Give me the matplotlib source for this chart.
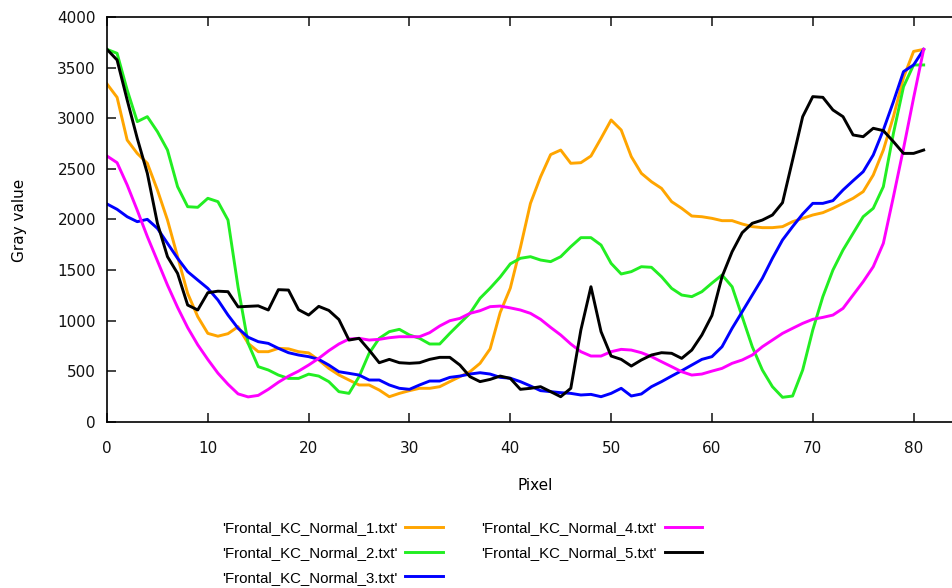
import numpy as np
import matplotlib
matplotlib.use('Agg')
import matplotlib.pyplot as plt

# gray value profiles along one row, 82 pixels each
pixel = np.arange(82)

normal_1 = [3338, 3206, 2784, 2652, 2554, 2290, 1993, 1631, 1268, 1038,
            873, 845, 870, 939, 774, 692, 692, 725, 720, 692,
            680, 610, 527, 462, 412, 363, 363, 313, 247, 280,
            307, 330, 330, 346, 396, 445, 494, 577, 720, 1080,
            1320, 1720, 2158, 2420, 2640, 2685, 2554, 2560, 2626, 2801,
            2982, 2883, 2620, 2455, 2372, 2306, 2175, 2109, 2033, 2026,
            2010, 1987, 1987, 1954, 1928, 1918, 1918, 1928, 1977, 2010,
            2043, 2066, 2109, 2158, 2208, 2274, 2438, 2685, 3015, 3400,
            3660, 3680]

normal_2 = [3680, 3641, 3279, 2966, 3015, 2867, 2685, 2323, 2125, 2119,
            2208, 2175, 1993, 1330, 774, 544, 511, 461, 428, 428,
            470, 451, 396, 297, 280, 445, 676, 824, 890, 913,
            857, 824, 768, 768, 873, 972, 1071, 1220, 1320, 1430,
            1560, 1615, 1631, 1598, 1582, 1631, 1730, 1819, 1819, 1746,
            1565, 1460, 1483, 1532, 1526, 1433, 1318, 1252, 1236, 1285,
            1370, 1450, 1334, 1038, 741, 511, 346, 241, 254, 511,
            906, 1236, 1499, 1697, 1862, 2026, 2109, 2323, 2850, 3311,
            3526, 3526]

normal_3 = [2152, 2099, 2026, 1977, 2000, 1911, 1763, 1615, 1483, 1400,
            1318, 1203, 1054, 923, 835, 791, 774, 725, 682, 659,
            643, 616, 560, 494, 478, 461, 412, 412, 363, 330,
            320, 363, 402, 402, 438, 451, 471, 484, 471, 438,
            430, 396, 353, 307, 297, 287, 280, 264, 270, 247,
            280, 330, 254, 274, 346, 396, 451, 504, 560, 616,
            643, 741, 923, 1087, 1252, 1417, 1615, 1796, 1928, 2053,
            2158, 2158, 2185, 2290, 2382, 2471, 2636, 2883, 3163, 3460,
            3526, 3680]

normal_4 = [2626, 2560, 2340, 2090, 1830, 1590, 1350, 1130, 930, 760,
            615, 480, 370, 275, 245, 260, 320, 390, 450, 500,
            560, 626, 702, 768, 817, 824, 807, 814, 830, 840,
            840, 840, 880, 946, 998, 1021, 1071, 1097, 1137, 1143,
            1125, 1104, 1071, 1012, 932, 857, 768, 692, 649, 649,
            692, 715, 708, 682, 643, 593, 544, 494, 461, 471,
            500, 527, 577, 610, 659, 741, 807, 873, 923, 972,
            1012, 1031, 1054, 1120, 1252, 1384, 1532, 1763, 2224, 2700,
            3200, 3680]

normal_5 = [3680, 3575, 3180, 2801, 2455, 1961, 1631, 1466, 1153, 1104,
            1275, 1290, 1285, 1135, 1140, 1145, 1104, 1305, 1301, 1107,
            1054, 1140, 1100, 1010, 807, 824, 708, 583, 616, 583,
            577, 583, 616, 636, 636, 560, 445, 396, 418, 451,
            428, 320, 330, 346, 297, 247, 330, 906, 1334, 890,
            649, 616, 550, 610, 659, 682, 676, 626, 708, 857,
            1050, 1433, 1680, 1868, 1961, 1993, 2043, 2165, 2587, 3015,
            3213, 3206, 3081, 3015, 2834, 2817, 2900, 2877, 2768, 2652,
            2652, 2685]

profiles = [normal_1, normal_2, normal_3, normal_4, normal_5]
labels = ["'Frontal_KC_Normal_%d.txt'" % k for k in range(1, 6)]
colors = ['#ffa500', '#22ee22', '#0000ff', '#ff00ff', '#000000']

xticks = np.arange(0, 81, 10)
yticks = np.arange(0, 4001, 500)

plt.rcParams['font.family'] = 'DejaVu Sans'

fig = plt.figure(figsize=(9.52, 5.88), dpi=100)
ax = fig.add_axes([107/952, 1 - 421.7/588, 857/952, 404.7/588])

for y, lab, c in zip(profiles, labels, colors):
    ax.plot(pixel, y, color=c, lw=2.1, label=lab)

ax.set_xlim(0, 85)
ax.set_ylim(0, 4000)
ax.set_xticks(xticks)
ax.set_yticks(yticks)
ax.tick_params(direction='in', length=6.5, width=1.1, top=True, right=True,
               labelsize=11, colors='#111111')
ax.tick_params(axis='x', pad=14)
ax.tick_params(axis='y', pad=8)
for s in ax.spines.values():
    s.set_linewidth(1.2)

ax.set_xlabel('Pixel', fontsize=11, labelpad=16)
fig.text(20/952, 1 - 220/588, 'Gray value', rotation=90, ha='center', va='center', fontsize=11)

# key sits below the plot, text first then the line sample
ax.legend(loc='upper left', bbox_to_anchor=(222/952, 1 - 521/588), bbox_transform=fig.transFigure,
          ncol=2, frameon=False, markerfirst=False, borderpad=0, borderaxespad=0,
          handlelength=2.5, handletextpad=0.5, columnspacing=2.6, labelspacing=0.72,
          prop={'family': 'Liberation Sans', 'size': 10.8})

fig.savefig('out.png', dpi=100)
